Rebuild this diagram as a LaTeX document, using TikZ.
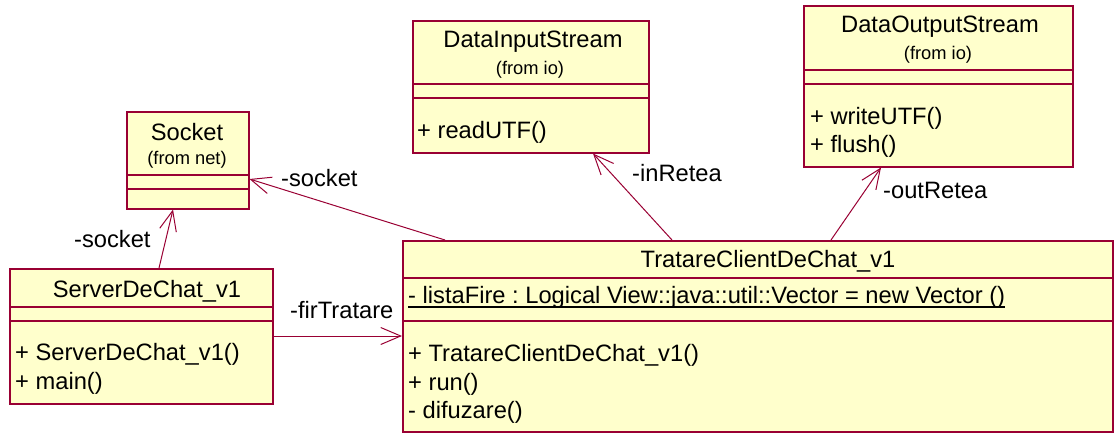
\documentclass[tikz,border=0pt]{standalone}
\usepackage{fontspec}
\setmainfont{Liberation Sans}
\usetikzlibrary{arrows.meta}
\definecolor{umlline}{RGB}{153,0,51}
\definecolor{umlfill}{RGB}{255,255,204}
\tikzset{classbox/.style={
        draw=umlline,
        fill=umlfill,
        line width=1.5pt,
        inner sep=0pt,
        anchor=north west
    },
    compsep/.style={draw=umlline, line width=1.2pt},
    classname/.style={inner sep=0pt, font=\fontsize{23.7}{28}\selectfont},
    pkgname/.style={inner sep=0pt, font=\fontsize{18.3}{22}\selectfont},
    member/.style={inner sep=0pt, anchor=west, font=\fontsize{23.7}{28}\selectfont},
    rolename/.style={inner sep=0pt, anchor=west, font=\fontsize{23.7}{28}\selectfont},
    assoc/.style={draw=umlline, line width=1pt,
        -{Straight Barb[length=20pt,width=17pt,line width=1pt]}}
}
\frenchspacing

\begin{document}
\begin{tikzpicture}[x=1pt,y=-1pt]
        \useasboundingbox (0,0) rectangle (1114,432);
        % classes
        \node[classbox, minimum width=122pt, minimum height=97pt] (socket) at (126,111) {};
        \node[classbox, minimum width=263pt, minimum height=135pt] (server) at (9,268) {};
        \node[classbox, minimum width=710pt, minimum height=191pt] (tratare) at (402,240) {};
        \node[classbox, minimum width=236pt, minimum height=132pt] (datain) at (412,20) {};
        \node[classbox, minimum width=269pt, minimum height=161pt] (dataout) at (803,5) {};
        % compartments
        \draw[compsep] (socket.west |- 0,175) -- (socket.east |- 0,175);
        \draw[compsep] (socket.west |- 0,189) -- (socket.east |- 0,189);
        \draw[compsep] (server.west |- 0,307) -- (server.east |- 0,307);
        \draw[compsep] (server.west |- 0,321) -- (server.east |- 0,321);
        \draw[compsep] (tratare.west |- 0,278) -- (tratare.east |- 0,278);
        \draw[compsep] (tratare.west |- 0,321) -- (tratare.east |- 0,321);
        \draw[compsep] (datain.west |- 0,84) -- (datain.east |- 0,84);
        \draw[compsep] (datain.west |- 0,98) -- (datain.east |- 0,98);
        \draw[compsep] (dataout.west |- 0,70) -- (dataout.east |- 0,70);
        \draw[compsep] (dataout.west |- 0,84) -- (dataout.east |- 0,84);
        % texts
        \node[classname] (sockettitle) at (187,132) {Socket};
        \node[pkgname] (socketpkg) at (187,160) {(from net)};
        \node[classname] (servertitle) at (147,291) {ServerDeChat\_v1};
        \node[member] (serverop1) at (15,354) {+ ServerDeChat\_v1()};
        \node[member] (serverop2) at (15,383) {+ main()};
        \node[classname] (trataretitle) at (768,261) {TratareClientDeChat\_v1};
        \node[member] (tratareattr) at (408,297) {- listaFire : Logical View::java::util::Vector = new Vector ()};
        \draw[line width=1.5pt] (tratareattr.west |- 0,307) -- (tratareattr.east |- 0,307);
        \node[member] (tratareop1) at (408,355) {+ TratareClientDeChat\_v1()};
        \node[member] (tratareop2) at (408,384) {+ run()};
        \node[member] (tratareop3) at (408,412) {- difuzare()};
        \node[classname] (dataintitle) at (533,42) {DataInputStream};
        \node[pkgname] (datainpkg) at (530,70) {(from io)};
        \node[member] (datainop1) at (417,132) {+ readUTF()};
        \node[classname] (dataouttitle) at (940,27) {DataOutputStream};
        \node[pkgname] (dataoutpkg) at (938,55) {(from io)};
        \node[member] (dataoutop1) at (810,118) {+ writeUTF()};
        \node[member] (dataoutop2) at (810,146) {+ flush()};
        % associations
        \draw[assoc] (server.north -| 159,0) -- (socket.south -| 173,0);
        \draw[assoc] (tratare.north -| 445,0) -- (socket.east |- 0,179);
        \draw[assoc] (server.east |- 0,336) -- (tratare.west |- 0,336);
        \draw[assoc] (tratare.north -| 672,0) -- (datain.south -| 593,0);
        \draw[assoc] (tratare.north -| 831,0) -- (dataout.south -| 881,0);
        \node[rolename] (role1) at (74,239) {-socket};
        \node[rolename] (role2) at (281,178) {-socket};
        \node[rolename] (role3) at (290,310) {-firTratare};
        \node[rolename] (role4) at (632,173) {-inRetea};
        \node[rolename] (role5) at (883,190) {-outRetea};
\end{tikzpicture}
\end{document}
